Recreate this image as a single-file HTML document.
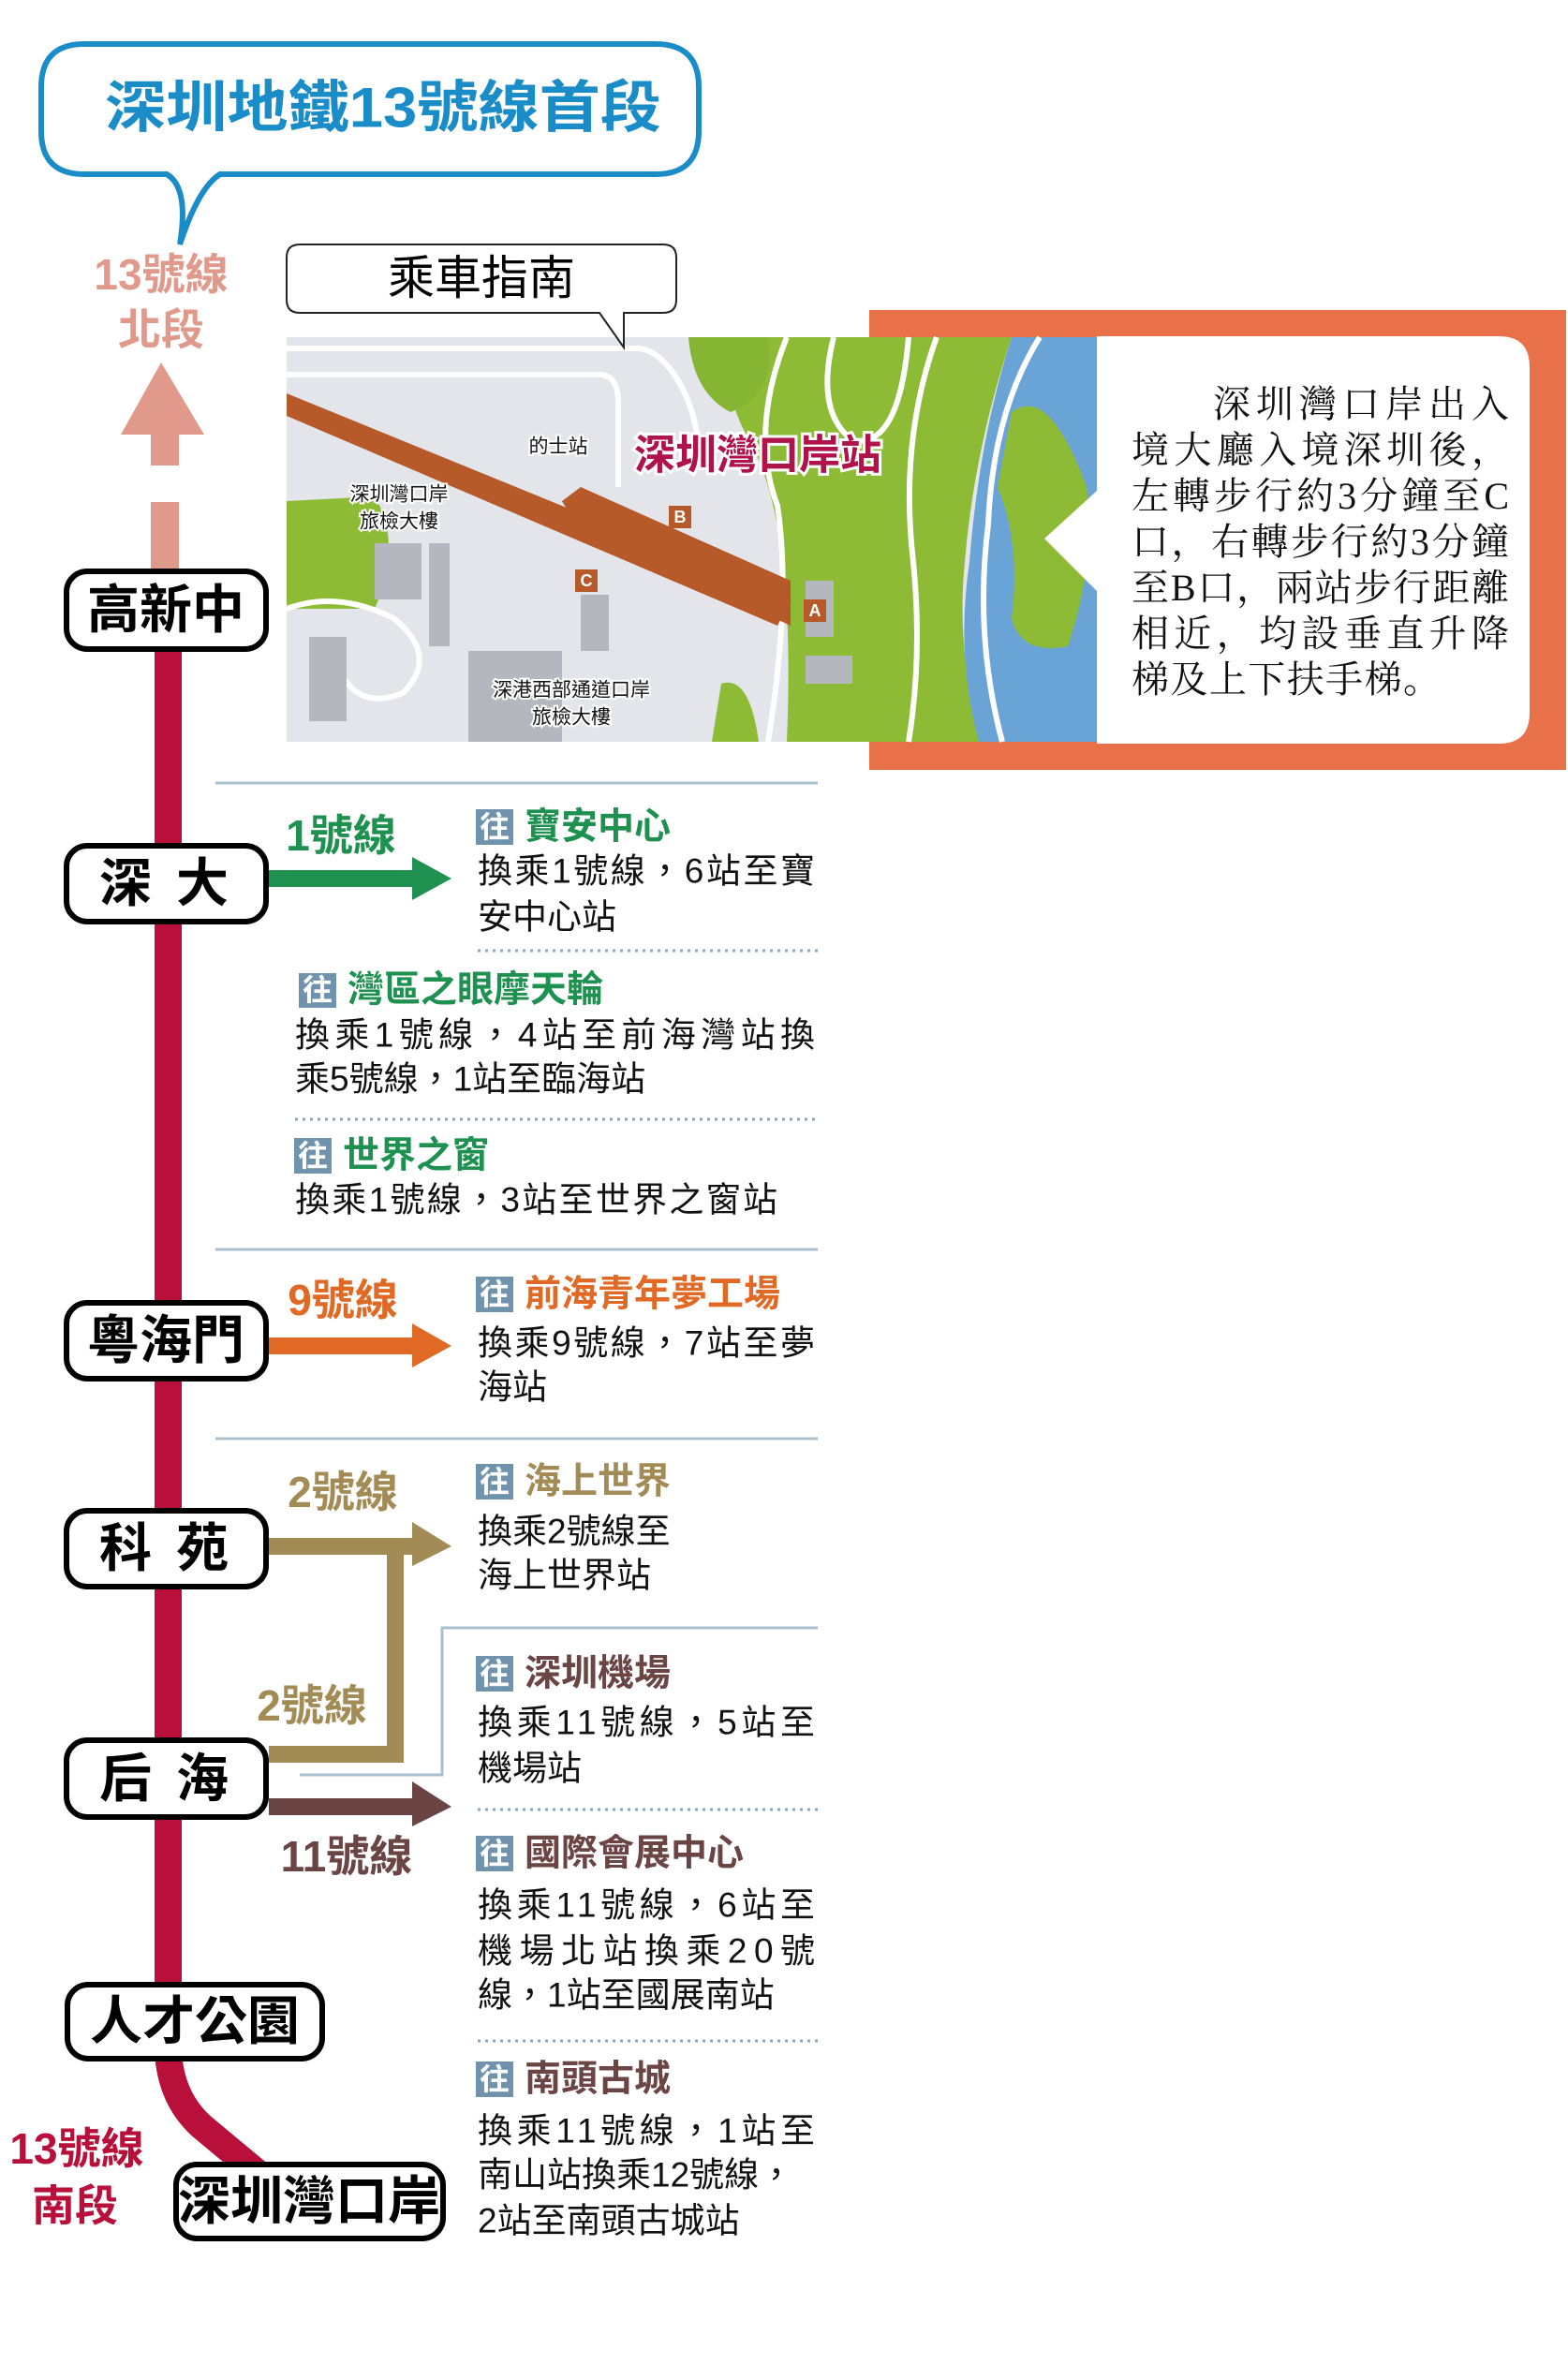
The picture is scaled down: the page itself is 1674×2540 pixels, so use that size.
<!DOCTYPE html>
<html><head><meta charset="utf-8">
<style>
html,body{margin:0;padding:0;background:#fff;}
svg{display:block;}
.b{font-family:"Liberation Sans","Noto Sans CJK TC",sans-serif;font-weight:700;}
.n{font-family:"Liberation Sans","Noto Sans CJK TC",sans-serif;font-weight:400;}
.s{font-family:"Liberation Serif","Noto Serif CJK SC",serif;}
</style></head>
<body>
<svg width="1674" height="2540" viewBox="0 0 1674 2540" xmlns="http://www.w3.org/2000/svg">
<!-- title bubble -->
<path d="M90,47 H700 Q746,47 746,93 V140 Q746,186 700,186 H235 Q212,200 192,261 Q202,200 178,186 H90 Q44,186 44,140 V93 Q44,47 90,47 Z" fill="#fff" stroke="#1a8cc8" stroke-width="6"/>
<text x="409" y="115" class="b" font-size="60" fill="#1a8cc8" text-anchor="middle" dominant-baseline="central" textLength="594" lengthAdjust="spacingAndGlyphs">深圳地鐵13號線首段</text>

<!-- north label -->
<text x="172" y="293" class="b" font-size="46" fill="#e0998a" text-anchor="middle" dominant-baseline="central">13號線</text>
<text x="172" y="352" class="b" font-size="46" fill="#e0998a" text-anchor="middle" dominant-baseline="central">北段</text>
<polygon points="172,387 129,464 218,464" fill="#e0998a"/>
<rect x="161" y="463" width="30" height="34" fill="#e0998a"/>
<rect x="161" y="536" width="30" height="72" fill="#e0998a"/>

<!-- red line -->
<rect x="165" y="690" width="29" height="1440" fill="#b8103a"/>
<path d="M179.5,2190 Q182,2240 215,2270 L275,2320" fill="none" stroke="#b8103a" stroke-width="29"/>

<!-- arrows -->
<rect x="287" y="929" width="156" height="18" fill="#1e9150"/>
<polygon points="440,915 482,938 440,961" fill="#1e9150"/>
<rect x="287" y="1428" width="156" height="18" fill="#e06a25"/>
<polygon points="440,1413 482,1437 440,1460" fill="#e06a25"/>
<rect x="287" y="1642" width="156" height="18" fill="#a28b55"/>
<polygon points="440,1625 482,1651 440,1672" fill="#a28b55"/>
<rect x="413" y="1642" width="18" height="240" fill="#a28b55"/>
<rect x="287" y="1864" width="144" height="18" fill="#a28b55"/>
<polyline points="320,1895 472,1895 472,1738 873,1738" fill="none" stroke="#a9bfcc" stroke-width="3"/>
<rect x="287" y="1920" width="156" height="18" fill="#6b4444"/>
<polygon points="440,1902 482,1929 440,1950" fill="#6b4444"/>

<!-- line labels -->
<text x="364" y="892" class="b" font-size="46" fill="#1e9150" text-anchor="middle" dominant-baseline="central">1號線</text>
<text x="366" y="1388" class="b" font-size="46" fill="#e06a25" text-anchor="middle" dominant-baseline="central">9號線</text>
<text x="366" y="1593" class="b" font-size="46" fill="#a28b55" text-anchor="middle" dominant-baseline="central">2號線</text>
<text x="333" y="1821" class="b" font-size="46" fill="#a28b55" text-anchor="middle" dominant-baseline="central">2號線</text>
<text x="370" y="1982" class="b" font-size="46" fill="#6b4444" text-anchor="middle" dominant-baseline="central">11號線</text>

<!-- station boxes -->
<g stroke="#000" stroke-width="6" fill="#fff">
<rect x="71" y="610" width="213" height="83" rx="22"/>
<rect x="71" y="903" width="213" height="81" rx="22"/>
<rect x="71" y="1391" width="213" height="81" rx="22"/>
<rect x="71" y="1613" width="213" height="81" rx="22"/>
<rect x="71" y="1858" width="213" height="82" rx="22"/>
<rect x="72" y="2119" width="272" height="79" rx="22"/>
<rect x="188" y="2311" width="285" height="79" rx="22"/>
</g>
<g class="b" font-size="56" fill="#000" text-anchor="middle" dominant-baseline="central" font-weight="900">
<text x="177" y="651">高新中</text>
<text x="134" y="943">深</text><text x="216" y="943">大</text>
<text x="177" y="1431">粵海門</text>
<text x="134" y="1653">科</text><text x="216" y="1653">苑</text>
<text x="134" y="1899">后</text><text x="216" y="1899">海</text>
<text x="208" y="2158">人才公園</text>
<text x="330" y="2350">深圳灣口岸</text>
</g>
<text x="82" y="2294" class="b" font-size="46" fill="#b8103a" text-anchor="middle" dominant-baseline="central">13號線</text>
<text x="80" y="2355" class="b" font-size="46" fill="#b8103a" text-anchor="middle" dominant-baseline="central">南段</text>

<!-- separators -->
<g stroke="#a9bfcc" stroke-width="3">
<line x1="230" y1="836" x2="873" y2="836"/>
<line x1="230" y1="1334" x2="873" y2="1334"/>
<line x1="230" y1="1536" x2="873" y2="1536"/>
</g>
<g stroke="#8aa6b8" stroke-width="3" stroke-dasharray="3,5">
<line x1="510" y1="1015" x2="875" y2="1015"/>
<line x1="315" y1="1195" x2="875" y2="1195"/>
<line x1="510" y1="1932" x2="875" y2="1932"/>
<line x1="510" y1="2179" x2="875" y2="2179"/>
</g>

<!-- destination entries -->
<g class="b" font-size="22">
<rect x="508" y="864" width="40" height="38" fill="#6f93ad"/><text x="528" y="883" fill="#fff" font-size="32" text-anchor="middle" dominant-baseline="central">往</text>
<rect x="319" y="1039" width="40" height="37" fill="#6f93ad"/><text x="339" y="1057" fill="#fff" font-size="32" text-anchor="middle" dominant-baseline="central">往</text>
<rect x="314" y="1215" width="40" height="38" fill="#6f93ad"/><text x="334" y="1234" fill="#fff" font-size="32" text-anchor="middle" dominant-baseline="central">往</text>
<rect x="508" y="1363" width="40" height="38" fill="#6f93ad"/><text x="528" y="1382" fill="#fff" font-size="32" text-anchor="middle" dominant-baseline="central">往</text>
<rect x="508" y="1563" width="40" height="38" fill="#6f93ad"/><text x="528" y="1582" fill="#fff" font-size="32" text-anchor="middle" dominant-baseline="central">往</text>
<rect x="508" y="1768" width="40" height="38" fill="#6f93ad"/><text x="528" y="1787" fill="#fff" font-size="32" text-anchor="middle" dominant-baseline="central">往</text>
<rect x="508" y="1960" width="40" height="38" fill="#6f93ad"/><text x="528" y="1979" fill="#fff" font-size="32" text-anchor="middle" dominant-baseline="central">往</text>
<rect x="508" y="2201" width="40" height="38" fill="#6f93ad"/><text x="528" y="2220" fill="#fff" font-size="32" text-anchor="middle" dominant-baseline="central">往</text>
</g>
<g class="b" font-size="39" dominant-baseline="central">
<text x="560" y="883" fill="#1e9150">寶安中心</text>
<text x="371" y="1057" fill="#1e9150">灣區之眼摩天輪</text>
<text x="366" y="1234" fill="#1e9150">世界之窗</text>
<text x="560" y="1382" fill="#e06a25">前海青年夢工場</text>
<text x="560" y="1582" fill="#a28b55">海上世界</text>
<text x="560" y="1787" fill="#6b4444">深圳機場</text>
<text x="560" y="1979" fill="#6b4444">國際會展中心</text>
<text x="560" y="2220" fill="#6b4444">南頭古城</text>
</g>
<g class="n" font-size="37" fill="#111" dominant-baseline="central">
<text x="510" y="930" textLength="360" lengthAdjust="spacing">換乘1號線，6站至寶</text>
<text x="510" y="979">安中心站</text>
<text x="315" y="1105" textLength="555" lengthAdjust="spacing">換乘1號線，4站至前海灣站換</text>
<text x="315" y="1152">乘5號線，1站至臨海站</text>
<text x="315" y="1281" textLength="515" lengthAdjust="spacing">換乘1號線，3站至世界之窗站</text>
<text x="510" y="1434" textLength="360" lengthAdjust="spacing">換乘9號線，7站至夢</text>
<text x="510" y="1481">海站</text>
<text x="510" y="1635">換乘2號線至</text>
<text x="510" y="1682">海上世界站</text>
<text x="510" y="1839" textLength="360" lengthAdjust="spacing">換乘11號線，5站至</text>
<text x="510" y="1888">機場站</text>
<text x="510" y="2034" textLength="360" lengthAdjust="spacing">換乘11號線，6站至</text>
<text x="510" y="2083" textLength="360" lengthAdjust="spacing">機場北站換乘20號</text>
<text x="510" y="2130">線，1站至國展南站</text>
<text x="510" y="2275" textLength="360" lengthAdjust="spacing">換乘11號線，1站至</text>
<text x="510" y="2322">南山站換乘12號線，</text>
<text x="510" y="2371">2站至南頭古城站</text>
</g>

<!-- orange panel -->
<rect x="928" y="331" width="744" height="491" fill="#e8714a"/>
<!-- map -->
<g>
<rect x="306" y="360" width="866" height="432" fill="#e3e5ea"/>
<path d="M780,360 Q770,420 800,470 Q850,560 840,792 L1050,792 Q1020,700 1030,600 Q1040,480 1080,360 Z" fill="#8dbb35"/>
<path d="M735,360 Q740,420 780,440 Q830,420 820,360 Z" fill="#86b534"/>
<path d="M1080,360 L1172,360 L1172,792 L1045,792 Q1020,700 1035,600 Q1045,470 1080,360 Z" fill="#6aa3d6"/>
<path d="M1080,440 Q1120,410 1160,520 Q1170,600 1140,690 Q1090,700 1080,660 Q1090,580 1065,520 Z" fill="#8dbb35"/>
<path d="M306,535 L400,530 Q430,580 400,650 L306,650 Z" fill="#8dbb35"/>
<path d="M770,730 Q800,720 810,792 L760,792 Z" fill="#8dbb35"/>
<g fill="none" stroke="#fff" stroke-width="6">
<path d="M306,372 H680 Q700,372 720,400 Q740,430 745,470"/>
<path d="M306,400 H640 Q660,400 660,430 L660,520"/>
<path d="M840,360 Q800,460 830,540 Q845,640 820,792"/>
<path d="M890,360 Q870,440 910,470 Q960,480 970,360"/>
<path d="M1000,360 Q960,470 975,600 Q985,700 970,792"/>
<path d="M1110,360 Q1060,440 1055,560 Q1040,680 1070,792"/>
<path d="M306,650 Q360,630 420,660 Q470,700 430,740 Q380,760 360,710"/>
</g>
<g fill="#b4b7bd">
<rect x="400" y="580" width="50" height="60"/><rect x="458" y="580" width="22" height="110"/>
<rect x="330" y="680" width="40" height="90"/><rect x="500" y="695" width="100" height="97"/>
<rect x="860" y="620" width="30" height="60"/><rect x="860" y="700" width="50" height="30"/>
<rect x="620" y="635" width="30" height="60"/>
</g>
<polygon points="306,420 306,444 830,668 845,640" fill="#b65a2a"/>
<polygon points="600,535 615,560 844,668 844,620 620,520" fill="#b65a2a"/>
<rect x="714" y="540" width="24" height="24" fill="#b65a2a"/><text x="726" y="552" fill="#fff" font-size="18" class="b" text-anchor="middle" dominant-baseline="central">B</text>
<rect x="614" y="608" width="24" height="24" fill="#b65a2a"/><text x="626" y="620" fill="#fff" font-size="18" class="b" text-anchor="middle" dominant-baseline="central">C</text>
<rect x="858" y="640" width="24" height="24" fill="#b65a2a"/><text x="870" y="652" fill="#fff" font-size="18" class="b" text-anchor="middle" dominant-baseline="central">A</text>
<g class="n" font-size="21" fill="#111" stroke="#fff" stroke-width="4" paint-order="stroke" text-anchor="middle" dominant-baseline="central">
<text x="596" y="477">的士站</text>
<text x="426" y="528">深圳灣口岸</text>
<text x="426" y="557">旅檢大樓</text>
<text x="610" y="737">深港西部通道口岸</text>
<text x="610" y="766">旅檢大樓</text>
</g>
<text x="809" y="486" class="b" font-size="44" fill="#b0124a" stroke="#fff" stroke-width="6" paint-order="stroke" text-anchor="middle" dominant-baseline="central">深圳灣口岸站</text>
</g>
<!-- white info panel -->
<path d="M1171,359 H1600 Q1633,359 1633,392 V761 Q1633,794 1600,794 H1171 V631 L1115,575 L1171,524 Z" fill="#fff"/>
<g class="s" font-size="40" fill="#111">
<text x="1295" y="445" textLength="316" lengthAdjust="spacing">深圳灣口岸出入</text>
<text x="1208" y="494" textLength="403" lengthAdjust="spacing">境大廳入境深圳後，</text>
<text x="1208" y="543" textLength="403" lengthAdjust="spacing">左轉步行約3分鐘至C</text>
<text x="1208" y="592" textLength="403" lengthAdjust="spacing">口，右轉步行約3分鐘</text>
<text x="1208" y="641" textLength="403" lengthAdjust="spacing">至B口，兩站步行距離</text>
<text x="1208" y="690" textLength="403" lengthAdjust="spacing">相近，均設垂直升降</text>
<text x="1208" y="739" textLength="330" lengthAdjust="spacing">梯及上下扶手梯。</text>
</g>

<!-- guide bubble -->
<path d="M320,261 H708 Q722,261 722,275 V320 Q722,334 708,334 H666 L666,371 L640,334 H320 Q306,334 306,320 V275 Q306,261 320,261 Z" fill="#fff" stroke="#222" stroke-width="2"/>
<text x="514" y="297" class="n" font-size="50" fill="#000" text-anchor="middle" dominant-baseline="central">乘車指南</text>
</svg>
</body></html>
